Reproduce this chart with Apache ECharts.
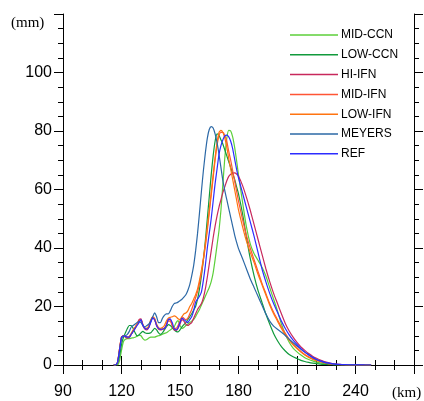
<!DOCTYPE html>
<html><head><meta charset="utf-8">
<script src="https://cdn.jsdelivr.net/npm/echarts@6/dist/echarts.min.js"></script>
<style>html,body{margin:0;padding:0;background:#fff}#c{width:424px;height:401px}</style>
</head><body><div id="c"></div>
<script>
const km = [116,117,118,119,120,121,122,123,124,125,126,127,128,129,130,131,132,133,134,135,136,137,138,139,140,141,142,143,144,145,146,147,148,149,150,151,152,153,154,155,156,157,158,159,160,161,162,163,164,165,166,167,168,169,170,171,172,173,174,175,176,177,178,179,180,
182,184,186,188,190,192,194,196,198,200,202,204,206,208,210,212,214,216,218,220,222,224,226,228,230,232,234,236,238,240,242,244,246,248];

const seriesNames = ['MID-CCN','LOW-CCN','HI-IFN','MID-IFN','LOW-IFN','MEYERS','REF'];

const midCCN = [0,0,0,1.5,5, 8,8.8,9,9,9.2, 9.3,9.5,9.8,10.2,10, 9,8.5,8.7,9.2,9.5, 9.5,9.5,9.8,10,10.2, 10.5,10.8,11,11.5,12, 12.5,13,14.5,15.2,13.5, 12.5,12.8,13.5,14,14.5, 15,15.5,16.5,17.8,19, 20.5,22,23.5,25,26.5, 28.5,31.5,36,41,46, 53,62,71,77.5,80.2, 80,78,74.5,70,65,
 56,47.5,41.5,38,35.8, 33.5,30.5,26.5,22.5,18.5, 14,10.5,7.8,5.8,4.5, 3.4,2.5,1.9,1.4,1, 0.7,0.5,0.3,0.2,0.12, 0.08,0.05,0.03,0.02,0.01, 0,0,0,0];
const lowCCN = [0,0,0.5,3,7, 9.5,11,12.5,13.5,13.5, 12.5,11,10,10.3,11, 11.5,11,10.8,10.8,11, 11.8,12.5,12,11,10.5, 11,12,13,13.8,13.5, 12.8,12,11.5,11.3,12, 13,13.8,14.5,15.5,16.5, 17.5,18.8,20,22.5,26, 30.5,36,42.5,50,57.5, 65,71.5,76.5,79,78.5, 77,75.5,73.5,71.5,69.5, 67.5,65.5,63.5,61,58.5,
 52,44,36.5,30.5,25.5, 21.5,17.5,14,10.8,8.3, 6.3,4.8,3.6,2.8,2.2, 1.6,1.2,0.9,0.65,0.45, 0.3,0.2,0.13,0.08,0.05, 0.03,0.02,0.01,0,0, 0,0,0,0];
const hiIFN = [0,0,1,5.5,9.5, 10,9.5,9.2,9.5,10.5, 11.8,12.8,14,15.5,15.8, 13.5,12.3,12,12.8,15, 16.3,15.5,13.5,12.3,12, 12.2,12.5,13.8,15.5,15.5, 13.5,12,11.8,12.5,14, 15.5,15,14,13.5,14, 14.5,16,17.5,19,20, 21,23,26,30,34.5, 39,43.5,47.5,51,54, 56.5,59,61,63,64.5, 65.2,65.6,65.7,65.3,64.5,
 61.5,57.5,53,48,43, 38,33,28.5,24.5,21, 17.5,14.2,11.6,9.5,7.7, 6.2,5,3.9,3,2.3, 1.7,1.2,0.8,0.5,0.3, 0.2,0.12,0.08,0.05,0.03, 0.02,0.01,0,0];
const midIFN = [0,0,1,5.5,9.5, 10,9.7,9.5,9.5,10.5, 11.5,12.5,14,15,15.5, 13.8,12.5,12.5,13,15, 16.2,15.5,13.5,12.5,12.3, 12.3,12.5,13.5,15,15, 13.5,12.5,12.5,13.5,15, 16.5,16,15.5,16,17.5, 19,21,23,25,28, 31.5,36,40.5,46,52, 58,64,70,75,78.5, 79.5,79.5,78.5,76.5,73, 70,66.5,63,59.5,56,
 50,44.5,40,36,32, 28,24.5,21,18,15.5, 13,10.8,8.8,7.2,5.8, 4.6,3.6,2.8,2.1,1.6, 1.2,0.8,0.5,0.3,0.2, 0.12,0.08,0.05,0.03,0.02, 0.01,0,0,0];
const lowIFN = [0,0,1,5.5,9.5, 10,9.8,9.5,9.8,10.8, 12,13,14,15,15.3, 13.5,12.5,12.5,13.5,15.5, 16.5,16,14,12.8,12.5, 12.8,13.5,15,16,16.3, 16.5,16.8,16.5,15.8,15.5, 16.5,17.5,17.8,18.5,20, 21,22.5,24,26,29, 32.5,36.5,41.5,47,53, 59,65,71,76,79.5, 80.2,79.5,77.5,74.5,70.5, 67,63.5,60,56.5,53,
 47.5,42.5,38.5,35,31, 27.5,24,20.5,17.5,15, 12.5,10.3,8.5,6.9,5.6, 4.4,3.4,2.6,2,1.5, 1.1,0.7,0.5,0.3,0.2, 0.12,0.08,0.05,0.03,0.02, 0.01,0,0,0];
const meyers = [0,0,1,5,9, 9.8,10,10.5,11.5,13, 13.5,14,14.5,14.8,14.5, 13.5,13,13.5,14,15, 16.5,17.8,16.5,14.5,14.5, 16,17,17.5,17.5,18.5, 20,21,21.2,21.5,22, 22.5,23.2,24,25.5,27.5, 30.5,34,39,45,52, 59.5,66.5,72.5,77.5,80.5, 81.5,81,79,76,72, 67.5,63,59.5,56.5,53.5, 50.5,47.5,44.5,42,39.8,
 36.5,33,29.5,26.5,23.5, 20.5,17.5,15,13.3,12.2, 11.2,10.1,8.8,7.6,6.5, 5.4,4.4,3.5,2.6,1.9, 1.3,0.9,0.6,0.35,0.2, 0.12,0.08,0.05,0.03,0.02, 0.01,0,0,0];
const ref = [0,0,1,5,9.5, 10,9.8,9.5,9.5,10.5, 11.5,12.5,13.5,14.5,15.5, 13.5,12.5,12.3,12.8,14.5, 16,15.5,13.5,12.5,12.2, 12.3,12.5,13.5,15.5,15.8, 14.5,12.5,12,12.8,14.5, 16,15.5,15,14.5,15.5, 16.5,18.5,21.5,22.5,23.5, 25,29,34,40,45, 50,56,62,67,72, 75,77,78.3,78.6,78, 76.5,74,70.5,67,64,
 59,54,49,44,38.5, 33,28.5,24.5,21,18, 15,12.5,10.3,8.5,7, 5.6,4.4,3.4,2.6,1.9, 1.4,1,0.7,0.45,0.3, 0.2,0.12,0.08,0.05,0.03, 0.02,0.01,0,0];

const xTicks = [90,120,150,180,210,240];
const yTicks = [0,20,40,60,80,100];

const colors = ['#5ccf3a','#119a3c','#c8285c','#ff5535','#ff7410','#2b68a6','#2c2cff'];
const values = [midCCN, lowCCN, hiIFN, midIFN, lowIFN, meyers, ref];

const chart = echarts.init(document.getElementById('c'), null, {renderer:'canvas'});
const font = 'Liberation Sans, Arial, Helvetica, sans-serif';
const tick = {show:true, inside:false, length:9, lineStyle:{color:'#000', width:1}};
const minor = (n)=>({show:true, splitNumber:n, length:5, lineStyle:{color:'#000', width:1}});
const axLine = {show:true, lineStyle:{color:'#000', width:1}};

chart.setOption({
  animation:false,
  backgroundColor:'#fff',
  grid:{left:63, right:10, top:14, bottom:36, containLabel:false},
  legend:{
    orient:'vertical', left:285, top:24, itemWidth:48, itemHeight:1.5, itemGap:7.8, icon:'rect',
    textStyle:{fontFamily:font, fontSize:12, color:'#000', padding:[0,0,0,-2], lineHeight:12},
    data:seriesNames
  },
  xAxis:[
    {type:'value', min:90, max:270, interval:30, position:'bottom',
     axisLine:axLine, axisTick:tick, minorTick:minor(3), splitLine:{show:false},
     axisLabel:{fontFamily:font, fontSize:16, color:'#000', margin:19,
       formatter:(v)=> xTicks.includes(v) ? String(v) : ''}},
    {type:'value', min:90, max:270, interval:30, position:'top',
     axisLine:axLine, axisTick:tick, minorTick:minor(3), splitLine:{show:false}, axisLabel:{show:false}}
  ],
  yAxis:[
    {type:'value', min:0, max:120, interval:20, position:'left',
     axisLine:axLine, axisTick:tick, minorTick:minor(4), splitLine:{show:false},
     axisLabel:{fontFamily:font, fontSize:16, color:'#000', margin:11,
       formatter:(v)=> yTicks.includes(v) ? String(v) : ''}},
    {type:'value', min:0, max:120, interval:20, position:'right',
     axisLine:axLine, axisTick:tick, minorTick:minor(4), splitLine:{show:false}, axisLabel:{show:false}}
  ],
  graphic:[
    {type:'text', left:11, top:16, style:{text:'(mm)', font:'15px "Liberation Serif", "Times New Roman", serif', fill:'#000'}},
    {type:'text', left:392, top:386, style:{text:'(km)', font:'15px "Liberation Serif", "Times New Roman", serif', fill:'#000'}}
  ],
  series: seriesNames.map((name,i)=>({
    name:name, type:'line', xAxisIndex:0, yAxisIndex:0,
    data: km.map((k,j)=>[k, values[i][j]]),
    showSymbol:false, symbol:'none', smooth:0.2,
    lineStyle:{color:colors[i], width:1.2},
    itemStyle:{color:colors[i]},
    z: 2
  }))
});
</script></body></html>
